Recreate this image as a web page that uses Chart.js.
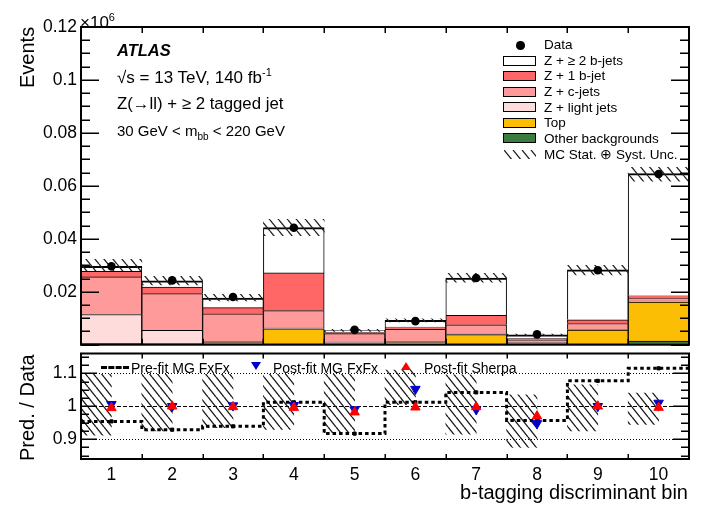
<!DOCTYPE html>
<html><head><meta charset="utf-8">
<script src="https://cdn.jsdelivr.net/npm/chart.js@4.4.0/dist/chart.umd.min.js"></script>
<style>
html,body{margin:0;padding:0;background:#fff;}
body{width:701px;height:505px;position:relative;overflow:hidden;font-family:"Liberation Sans",Arial,sans-serif;color:#000;}
canvas{position:absolute;left:0;}
#top{top:0}
#bot{top:347px}
.t{position:absolute;white-space:nowrap;line-height:1;}
.rot{transform-origin:left top;transform:rotate(-90deg);}
.box{position:absolute;left:503px;width:33px;height:10px;border:1.5px solid #000;box-sizing:border-box;}
.lt{position:absolute;left:544px;font-size:13.5px;line-height:1;white-space:nowrap;}
</style></head><body>
<canvas id="top" width="701" height="349"></canvas>
<canvas id="bot" width="701" height="158"></canvas>

<div class="t" style="left:80px;top:11.7px;font-size:17px">×10<sup style="font-size:11px;vertical-align:7px">6</sup></div>
<div class="t rot" style="left:17.4px;top:88px;font-size:20px">Events</div>
<div class="t rot" style="left:17.4px;top:461px;font-size:20px">Pred. / Data</div>
<div class="t" style="left:117px;top:41.9px;font-size:16.5px;font-weight:bold;font-style:italic">ATLAS</div>
<div class="t" style="left:117px;top:66.7px;font-size:17px">√s = 13 TeV, 140 fb<sup style="font-size:11px;vertical-align:7px">-1</sup></div>
<div class="t" style="left:117px;top:95.8px;font-size:16.8px">Z(→ll) + ≥ 2 tagged jet</div>
<div class="t" style="left:117px;top:122.7px;font-size:15px">30 GeV &lt; m<sub style="font-size:10px;vertical-align:-4px">bb</sub> &lt; 220 GeV</div>
<div class="t" style="right:13px;top:482px;font-size:20px">b-tagging discriminant bin</div>

<!-- top legend -->
<div style="position:absolute;left:516px;top:41px;width:8.5px;height:8.5px;border-radius:50%;background:#000"></div>
<div class="lt" style="top:38.4px">Data</div>
<div class="box" style="top:56px;background:#fff"></div><div class="lt" style="top:54.4px">Z + ≥ 2 b-jets</div>
<div class="box" style="top:71px;background:#ff6666"></div><div class="lt" style="top:69.4px">Z + 1 b-jet</div>
<div class="box" style="top:86.7px;background:#ff9a9a"></div><div class="lt" style="top:85.1px">Z + c-jets</div>
<div class="box" style="top:102.3px;background:#ffdcdc"></div><div class="lt" style="top:100.7px">Z + light jets</div>
<div class="box" style="top:117.7px;background:#fcbe05"></div><div class="lt" style="top:116.1px">Top</div>
<div class="box" style="top:133.3px;background:#3d7a40"></div><div class="lt" style="top:131.7px">Other backgrounds</div>
<canvas id="legH" width="32" height="9" style="left:504px;top:150px"></canvas>
<div class="lt" style="top:148.4px">MC Stat. ⊕ Syst. Unc.</div>

<!-- ratio legend -->
<div style="position:absolute;left:101px;top:366px;width:28px;border-top:3px dashed #000"></div>
<div class="t" style="left:131px;top:360.7px;font-size:14px">Pre-fit MG FxFx</div>
<div style="position:absolute;left:251px;top:362px;width:0;height:0;border-left:5px solid transparent;border-right:5px solid transparent;border-top:8px solid #0000cc"></div>
<div class="t" style="left:273px;top:360.7px;font-size:14px">Post-fit MG FxFx</div>
<div style="position:absolute;left:401px;top:362px;width:0;height:0;border-left:5px solid transparent;border-right:5px solid transparent;border-bottom:8px solid #ff0000"></div>
<div class="t" style="left:424px;top:360.7px;font-size:14px">Post-fit Sherpa</div>

<script>
// ---------- data ----------
const bins = ['1','2','3','4','5','6','7','8','9','10'];
// top panel (Events x 10^6)
const dataEvents = [0.0296,0.0243,0.0180,0.0442,0.0056,0.0089,0.0252,0.0039,0.0281,0.0645];
const otherBkg   = [0.0002,0.0001,0.0003,0.0003,0.0002,0.0002,0.0003,0.0002,0.0003,0.0014];
const topQuark   = [0.0003,0.0003,0.0005,0.0057,0.0004,0.0006,0.0035,0.0004,0.0052,0.0147];
const zLight     = [0.0109,0.0050,0.0004,0.0003,0.0004,0.0004,0.0002,0.0002,0.0002,0.0004];
const zCjets     = [0.0142,0.0139,0.0105,0.0066,0.0032,0.0046,0.0035,0.0008,0.0023,0.0010];
const z1bjet     = [0.0021,0.0025,0.0023,0.0142,0.0004,0.0009,0.0036,0.0007,0.0014,0.0010];
const z2bjets    = [0.0019,0.0023,0.0036,0.0171,0.0008,0.0025,0.0141,0.0014,0.0189,0.0461];
const mcUncLow   = [0.0280,0.0226,0.0165,0.0412,0.0050,0.0086,0.0236,0.0034,0.0264,0.0618];
const mcUncHigh  = [0.0322,0.0258,0.0190,0.0474,0.0058,0.0098,0.0270,0.0040,0.0300,0.0670];
// ratio panel
const preFitMG      = [0.954,0.929,0.939,1.012,0.917,1.012,1.042,0.957,1.077,1.115];
const postFitMG     = [1.006,1.000,1.002,1.003,0.990,1.052,0.990,0.948,1.000,1.010];
const postFitSherpa = [0.995,1.000,0.998,0.996,0.982,0.997,0.998,0.970,1.000,0.996];
const ratioUncLow   = [0.912,0.925,0.935,0.930,0.920,1.005,0.915,0.875,0.925,0.945];
const ratioUncHigh  = [1.097,1.097,1.097,1.097,1.097,1.110,1.095,1.035,1.065,1.040];
const ratioTicks    = [0.9, 1, 1.1];

Chart.defaults.font.family = "'Liberation Sans', Arial, sans-serif";
Chart.defaults.color = '#000';

function makeHatch(ctx, w, h, color, lw) {
  const c = document.createElement('canvas');
  c.width = w; c.height = h;
  const g = c.getContext('2d');
  g.strokeStyle = color; g.lineWidth = lw;
  g.beginPath();
  for (const o of [-w, 0, w]) { g.moveTo(o, 0); g.lineTo(o + w, h); }
  g.stroke();
  return ctx.createPattern(c, 'repeat');
}

const rootAxes = {
  id: 'rootAxes',
  beforeDatasetsDraw(chart, args, o) {
    if (!o.refLines) return;
    const {ctx, chartArea: a} = chart;
    const ys = chart.scales.y;
    ctx.save();
    ctx.strokeStyle = '#000';
    ctx.lineWidth = 1;
    for (const r of o.refLines) {
      const py = Math.round(ys.getPixelForValue(r.v)) + 0.5;
      ctx.setLineDash(r.dash);
      ctx.beginPath(); ctx.moveTo(a.left, py); ctx.lineTo(a.right, py); ctx.stroke();
    }
    ctx.restore();
  },
  afterDatasetsDraw(chart, args, o) {
    const {ctx, chartArea: a} = chart;
    const ys = chart.scales.y, xs = chart.scales.x;
    ctx.save();
    ctx.strokeStyle = '#000';
    ctx.lineWidth = 1.5;
    const start = o.base + Math.ceil((o.ymin - o.base) / o.minor - 1e-6) * o.minor;
    for (let v = start; v <= o.ymax + 1e-9; v += o.minor) {
      const rel = (v - o.base) / o.major;
      const major = Math.abs(rel - Math.round(rel)) < 1e-4;
      const len = major ? o.majLen : o.minLen;
      const py = Math.round(ys.getPixelForValue(v)) + 0.25;
      ctx.beginPath();
      ctx.moveTo(a.left, py); ctx.lineTo(a.left + len, py);
      ctx.moveTo(a.right, py); ctx.lineTo(a.right - len, py);
      ctx.stroke();
    }
    for (let i = 0; i <= bins.length; i++) {
      const px = Math.round(xs.getPixelForValue(i - 0.5)) + 0.25;
      ctx.beginPath();
      ctx.moveTo(px, a.top); ctx.lineTo(px, a.top + o.xLen);
      ctx.moveTo(px, a.bottom); ctx.lineTo(px, a.bottom - o.xLen);
      ctx.stroke();
    }
    ctx.lineWidth = 2;
    ctx.strokeRect(a.left, a.top, a.right - a.left, a.bottom - a.top);
    ctx.restore();
  }
};

const yFit = s => { s.width = 81; s.paddingTop = 0; s.paddingBottom = 0; };

// ---------- top panel ----------
const topCtx = document.getElementById('top').getContext('2d');
const hatchTop = makeHatch(topCtx, 9, 11, '#222', 1.3);
function stackSet(label, values, color, topW) {
  return {label, data: values, backgroundColor: color, borderColor: '#000',
          borderWidth: c => {
            const px = c.chart.scales.y ? Math.abs(c.chart.scales.y.getPixelForValue(0) - c.chart.scales.y.getPixelForValue(c.raw || 0)) : 10;
            return {top: px < 3 ? 0.5 : (topW || 1), left: 1, right: 1, bottom: 0};
          },
          borderSkipped: 'start', yAxisID: 'y'};
}
new Chart(topCtx, {
  type: 'bar',
  data: {
    labels: bins,
    datasets: [
      {type: 'line', label: 'Data', data: dataEvents, yAxisID: 'y2', showLine: false,
       pointRadius: 4.3, pointBackgroundColor: '#000', pointBorderColor: '#000', pointBorderWidth: 0, order: -2},
      {label: 'MC Stat. ⊕ Syst. Unc.', data: bins.map((b, i) => [mcUncLow[i], mcUncHigh[i]]), yAxisID: 'y2',
       grouped: false, backgroundColor: hatchTop, borderWidth: 0, order: -1},
      stackSet('Other backgrounds', otherBkg, '#3d7a40'),
      stackSet('Top', topQuark, '#fcbe05'),
      stackSet('Z + light jets', zLight, '#ffdcdc'),
      stackSet('Z + c-jets', zCjets, '#ff9a9a'),
      stackSet('Z + 1 b-jet', z1bjet, '#ff6666'),
      stackSet('Z + ≥ 2 b-jets', z2bjets, '#ffffff', 2)
    ]
  },
  options: {
    responsive: false, animation: false, devicePixelRatio: 1,
    layout: {padding: {left: 0, right: 12, top: 27, bottom: 2}},
    datasets: {bar: {barPercentage: 1, categoryPercentage: 1}},
    plugins: {legend: {display: false}, tooltip: {enabled: false},
      rootAxes: {ymin: 0, ymax: 0.12, base: 0, major: 0.02, minor: 0.005, majLen: 18, minLen: 9, xLen: 6}},
    scales: {
      x: {stacked: true, offset: true, grid: {display: false, drawTicks: false}, border: {display: false},
          ticks: {display: false}, afterFit: s => { s.height = 0; }},
      y: {stacked: true, min: 0, max: 0.12, grid: {display: false, drawTicks: false}, border: {display: false},
          ticks: {stepSize: 0.02, padding: 4, font: {size: 17.5}, color: '#000',
                  callback: v => v < 1e-9 ? '' : String(Math.round(v * 100) / 100)},
          afterFit: yFit},
      y2: {display: false, min: 0, max: 0.12}
    }
  },
  plugins: [rootAxes]
});

// legend hatch sample
(function(){
  const lc = document.getElementById('legH').getContext('2d');
  lc.fillStyle = makeHatch(lc, 9, 11, '#222', 1.3);
  lc.fillRect(0, 0, 32, 9);
})();

// ---------- ratio panel ----------
const botCtx = document.getElementById('bot').getContext('2d');
const hatchBot = makeHatch(botCtx, 8, 10, '#1a1a1a', 1.3);
const preFitPts = [];
preFitMG.forEach((v, i) => { preFitPts.push({x: i + 0.5, y: v}); preFitPts.push({x: i + 1.5, y: v}); });
new Chart(botCtx, {
  type: 'bar',
  data: {
    labels: bins,
    datasets: [
      {type: 'line', label: 'Post-fit Sherpa', data: postFitSherpa, showLine: false, pointStyle: 'triangle',
       pointRadius: 5.5, pointBackgroundColor: '#ff0000', pointBorderColor: '#ff0000', order: -5},
      {type: 'line', label: 'Post-fit MG FxFx', data: postFitMG, showLine: false, pointStyle: 'triangle',
       pointRotation: 180, pointRadius: 5.5, pointBackgroundColor: '#0000cc', pointBorderColor: '#0000cc', order: -4},
      {type: 'line', label: 'Pre-fit markers', data: preFitMG, showLine: false, pointStyle: 'rect',
       pointRadius: 2.2, pointBackgroundColor: '#000', pointBorderColor: '#000', order: -3},
      {type: 'line', label: 'Pre-fit MG FxFx', xAxisID: 'xl', data: preFitPts, borderColor: '#000',
       borderWidth: 3, borderDash: [3.5, 3], pointRadius: 0, fill: false, tension: 0, order: -2},
      {label: 'Unc.', data: bins.map((b, i) => [ratioUncLow[i], ratioUncHigh[i]]), backgroundColor: hatchBot,
       borderWidth: 0, order: -1}
    ]
  },
  options: {
    responsive: false, animation: false, devicePixelRatio: 1,
    layout: {padding: {left: 0, right: 12, top: 6, bottom: 0}},
    datasets: {bar: {barPercentage: 1, categoryPercentage: 1}},
    plugins: {legend: {display: false}, tooltip: {enabled: false},
      rootAxes: {ymin: 0.84, ymax: 1.16, base: 1, major: 0.1, minor: 0.025, majLen: 16, minLen: 8, xLen: 5,
                 refLines: [{v: 1.1, dash: [1, 2]}, {v: 1, dash: [4, 2]}, {v: 0.9, dash: [1, 2]}]}},
    scales: {
      x: {offset: true, grid: {display: false, drawTicks: false}, border: {display: false},
          ticks: {font: {size: 17.5}, color: '#000', padding: 6, maxRotation: 0, autoSkip: false},
          afterFit: s => { s.height = 46; s.paddingLeft = 0; s.paddingRight = 0; }},
      xl: {type: 'linear', display: false, offset: false, min: 0.5, max: 10.5},
      y: {min: 0.84, max: 1.16, grid: {display: false, drawTicks: false}, border: {display: false},
          afterBuildTicks: s => { s.ticks = ratioTicks.map(v => ({value: v})); },
          ticks: {padding: 4, font: {size: 17.5}, color: '#000', callback: v => String(Math.round(v * 100) / 100)},
          afterFit: yFit}
    }
  },
  plugins: [rootAxes]
});
</script>
</body></html>
